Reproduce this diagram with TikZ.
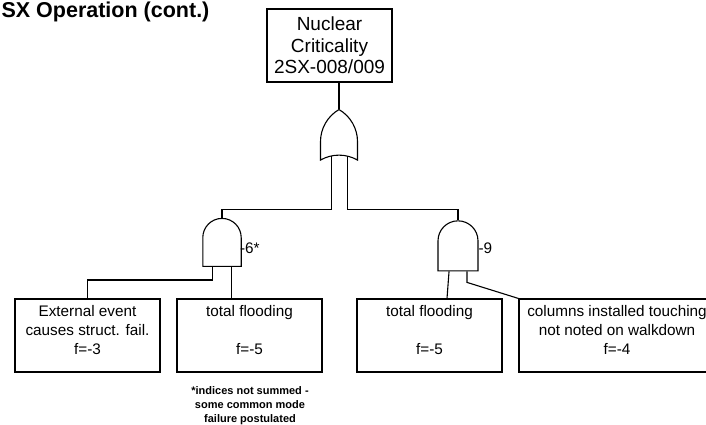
\documentclass[tikz,border=0pt]{standalone}
\usepackage{fontspec}
\setmainfont{Liberation Sans}
\usetikzlibrary{shapes.gates.logic.US,calc,positioning}

\begin{document}
\begin{tikzpicture}[x=1pt, y=-1pt, line width=1.1pt,
    event/.style={draw, minimum height=73pt, inner sep=0pt, align=center, font=\fontsize{15.3}{19}\selectfont, text depth=12pt},
    gatelbl/.style={font=\fontsize{15.3}{18}\selectfont, inner sep=0pt}]

    \useasboundingbox (0,0) rectangle (706,424);
    \clip (0,0) rectangle (706,424);

    \node[anchor=base west, inner sep=0pt, font=\fontsize{21.5}{25}\selectfont\bfseries] at (1,17) (Title) {SX Operation (cont.)};

    \node[draw, minimum width=125pt, minimum height=73pt, align=center, font=\fontsize{19}{21.5}\selectfont] at (329.5,45.5) (Top) {Nuclear\\Criticality\\2SX-008/009};

    \node[or gate US, draw, rotate=90, logic gate inputs=nn, minimum width=41pt, minimum height=37pt, inner sep=0pt] at (339,138.5) (Or) {};
    \node[and gate US, draw, rotate=90, logic gate inputs=nn, minimum width=48pt, minimum height=35pt, inner sep=0pt] at (222,244) (AndL) {};
    \node[and gate US, draw, rotate=90, logic gate inputs=nn, minimum width=49pt, minimum height=40pt, inner sep=0pt] at (458,247.5) (AndR) {};

    \node[gatelbl, anchor=west] at ($(AndL.center) + (17.5,4)$) (IdxL) {-6*};
    \node[gatelbl, anchor=west] at ($(AndR.center) + (20,1)$) (IdxR) {-9};

    \node[event, minimum width=145pt] at (87.5,335.5) (Ext) {External event\\causes struct. fail.\\f=-3};
    \node[event, minimum width=145pt] at (249.5,335.5) (Flood1) {total flooding\\[19pt]f=-5};
    \node[event, minimum width=145pt] at (429.5,335.5) (Flood2) {total flooding\\[19pt]f=-5};
    \node[event, minimum width=196pt] at (617,335.5) (Cols) {columns installed touching\\not noted on walkdown\\f=-4};

    \node[align=center, inner sep=0pt, font=\fontsize{11}{14}\selectfont\bfseries] at ($(Flood1.south) + (0.5,33)$) (Note) {*indices not summed -\\some common mode\\failure postulated};

    \draw (Or.output) -- (Or.output |- Top.south);
    \draw ([xshift=-1.5pt]Or.input 1) -- ++(0,53) -| (AndL.output);
    \draw ([xshift=2.5pt]Or.input 2) -- ++(0,53) -| (AndR.output);

    \draw ([xshift=-3.2pt]AndL.input 1) -- ++(0,13) -| (Ext.north);
    \draw ([xshift=3.2pt]AndL.input 2) coordinate (AndLin) -- (AndLin |- Flood1.north);
    \draw ([xshift=-2.3pt]AndR.input 1) -- ([xshift=17.5pt]Flood2.north);
    \draw ([xshift=2.3pt]AndR.input 2) -- ++(0,11) -- (Cols.north west);
\end{tikzpicture}
\end{document}
